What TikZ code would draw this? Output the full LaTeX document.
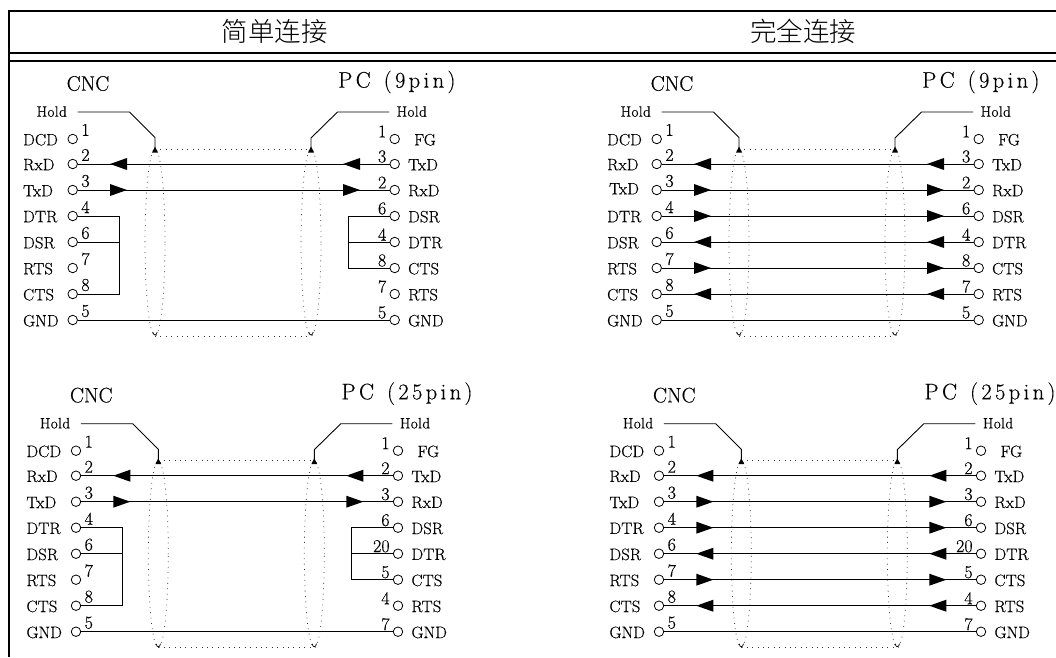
\documentclass[tikz,border=0pt]{standalone}
\usepackage{fontspec}
\setmainfont{Latin Modern Roman}
\newfontfamily\cjk{Noto Sans CJK SC Light}
\usetikzlibrary{calc}
\tikzset{
  rule/.style={line width=2pt,black},
  wire/.style={line width=1pt,black},
  pin/.style={circle,draw,line width=0.8pt,inner sep=0pt,minimum size=9.5pt},
  dots/.style={line width=0.75pt,black!80,dash pattern=on 0.8pt off 4.6pt},
  holdline/.style={line width=0.9pt,black},
  sig/.style={inner sep=0pt,font=\fontsize{16.5}{17}\selectfont\addfontfeature{LetterSpace=1,FakeBold=0.5}},
  num/.style={inner sep=0pt,font=\fontsize{18}{18}\selectfont\addfontfeature{FakeBold=0.4}},
  holdtxt/.style={inner sep=0pt,font=\fontsize{15}{15}\selectfont\addfontfeature{LetterSpace=3,FakeBold=0.8}},
  cnctxt/.style={inner sep=0pt,font=\fontsize{21}{21}\selectfont\addfontfeature{FakeBold=0.3}},
  ttl/.style={inner sep=0pt,font=\fontsize{22.5}{23}\selectfont\addfontfeature{LetterSpace=15,FakeBold=0.3}},
  head/.style={inner sep=0pt,font=\cjk\fontsize{26.5}{27}\selectfont},
}
% row y of a pin index
\newcommand\rowy[1]{\the\numexpr 139+#1*26-26-\ifnum#1=1 0\else 1\fi\relax}
% #1 name, #2 left TxD label offset, #3 PC title, #4 right pin list
\newcommand\panelbase[4]{%
  \node[cnctxt] (#1cnc) at (88,83.5) {CNC};
  \node[ttl,anchor=west] (#1pc) at (338,82) {PC\hspace{13pt}#3};
  \foreach \i/\n/\t in {1/1/DCD,2/2/RxD,4/4/DTR,5/6/DSR,6/7/RTS,7/8/CTS,8/5/GND}{
    \node[sig,anchor=west] (#1lt\i) at (23,\rowy{\i}+0.7) {\t};
  }
  \node[sig,anchor=west] (#1lt3) at ($(23,\rowy{3}+0.7)+#2$) {TxD};
  \foreach \i/\n in {1/1,2/2,3/3,4/4,5/6,6/7,7/8,8/5}{
    \node[pin] (#1l\i) at (72.7,\rowy{\i}) {};
    \node[num] (#1ln\i) at (85.5,\rowy{\i}-9) {\n};
  }
  \foreach \i/\n/\t/\xt in #4{
    \node[pin] (#1r\i) at (394.7,\rowy{\i}) {};
    \node[sig,anchor=west] (#1rt\i) at (\xt,\rowy{\i}+0.7) {\t};
    \node[num,anchor=east] (#1rn\i) at (386.5,\rowy{\i}-7.5) {\n};
  }
  % shield ellipses and hold leads
  \coordinate (#1ea) at (155,149); \coordinate (#1eb) at (311,149);
  \coordinate (#1ec) at (155,336); \coordinate (#1ed) at (311,336);
  \draw[dots] ($(#1ea)!0.5!(#1ec)$) ellipse (10pt and 93.5pt);
  \draw[dots] ($(#1eb)!0.5!(#1ed)$) ellipse (10pt and 93.5pt);
  \draw[dots] (#1ea) -- (#1eb);
  \draw[dots] (#1ec) -- (#1ed);
  \draw[line width=0.7pt] ($(#1ec)+(-2.2,-4)$) .. controls ($(#1ec)+(-1.6,0)$) and ($(#1ec)+(1.6,0)$) .. ($(#1ec)+(2.2,-4)$);
  \draw[line width=0.7pt] ($(#1ed)+(-2.2,-4)$) .. controls ($(#1ed)+(-1.6,0)$) and ($(#1ed)+(1.6,0)$) .. ($(#1ed)+(2.2,-4)$);
  \node[holdtxt,anchor=west] (#1hl) at (36.5,111.5) {Hold};
  \node[holdtxt,anchor=west] (#1hr) at (396.5,111.5) {Hold};
  \coordinate (#1hl0) at (77.5,112); \coordinate (#1hr0) at (389,112);
  \coordinate (#1hla) at (129.5,112); \coordinate (#1hlb) at (155,137.5);
  \coordinate (#1hra) at (337.5,112); \coordinate (#1hrb) at (311,138);
  \draw[holdline] (#1hl0) -- (#1hla) -- (#1hlb) -- (#1ea);
  \draw[holdline] (#1hr0) -- (#1hra) -- (#1hrb) -- (#1eb);
  \fill ($(#1ea)+(0,-2.5)$) -- ($(#1ea)+(-3,3.5)$) -- ($(#1ea)+(3,3.5)$) -- cycle;
  \fill ($(#1eb)+(0,-2.5)$) -- ($(#1eb)+(-3,3.5)$) -- ($(#1eb)+(3,3.5)$) -- cycle;
  \draw[wire] (#1l8.east) -- (#1r8.west);
}
% #1 name, #2 row index, #3 direction: r / l
\newcommand\arrowwire[3]{%
  \draw[wire] (#1l#2.east) -- (#1r#2.west);
  \if#3r
    \fill (110,\rowy{#2}-6) -- (127,\rowy{#2}) -- (110,\rowy{#2}+6) -- cycle;
    \fill (343,\rowy{#2}-6) -- (360,\rowy{#2}) -- (343,\rowy{#2}+6) -- cycle;
  \else
    \fill (127,\rowy{#2}-6) -- (110,\rowy{#2}) -- (127,\rowy{#2}+6) -- cycle;
    \fill (360,\rowy{#2}-6) -- (343,\rowy{#2}) -- (360,\rowy{#2}+6) -- cycle;
  \fi
}
\newcommand\simplewires[1]{%
  \arrowwire{#1}{2}{l}
  \arrowwire{#1}{3}{r}
  \coordinate (#1ba) at (119,\rowy{4}); \coordinate (#1bb) at (119,\rowy{7}); \coordinate (#1bc) at (119,\rowy{5});
  \draw[wire] (#1l4.east) -- (#1ba) -- (#1bb) -- (#1l7.east);
  \draw[wire] (#1l5.east) -- (#1bc);
  \coordinate (#1ca) at (348.5,\rowy{4}); \coordinate (#1cb) at (348.5,\rowy{6}); \coordinate (#1cc) at (348.5,\rowy{5});
  \draw[wire] (#1r4.west) -- (#1ca) -- (#1cb) -- (#1r6.west);
  \draw[wire] (#1r5.west) -- (#1cc);
}
\newcommand\fullwires[1]{%
  \arrowwire{#1}{2}{l}\arrowwire{#1}{3}{r}\arrowwire{#1}{4}{r}
  \arrowwire{#1}{5}{l}\arrowwire{#1}{6}{r}\arrowwire{#1}{7}{l}
}
\newcommand\ninelist{1/1/FG/414,2/3/TxD/408,3/2/RxD/408,4/6/DSR/408,5/4/DTR/408,6/8/CTS/408,7/7/RTS/408,8/5/GND/408}
\newcommand\twfvlist{1/1/FG/414,2/2/TxD/408,3/3/RxD/408,4/6/DSR/408,5/20/DTR/408,6/5/CTS/408,7/4/RTS/408,8/7/GND/408}
\begin{document}
\begin{tikzpicture}[x=1pt,y=-1pt]
\useasboundingbox (0,0) rectangle (1056,657);
\coordinate (tl) at (9,10.8); \coordinate (tr) at (1056,10.8);
\coordinate (bl) at (9,657);
\coordinate (h1l) at (9,53.3); \coordinate (h1r) at (1056,53.3);
\coordinate (h2l) at (9,61); \coordinate (h2r) at (1056,61);
\draw[rule] (bl) -- (tl) -- (tr);
\draw[rule] (h1l) -- (h1r);
\draw[rule] (h2l) -- (h2r);
\node[head] (hleft) at (274.5,31) {简单连接};
\node[head] (hright) at (803,31) {完全连接};
\begin{scope}
  \panelbase{A}{(0,0)}{(9pin)}{\ninelist}
  \simplewires{A}
\end{scope}
\begin{scope}[shift={(584,0)}]
  \panelbase{B}{(2,-2)}{(9pin)}{\ninelist}
  \fullwires{B}
\end{scope}
\begin{scope}[shift={(3.3,311.7)}]
  \panelbase{C}{(0,0)}{(25pin)}{\twfvlist}
  \simplewires{C}
\end{scope}
\begin{scope}[shift={(586.3,311.7)}]
  \panelbase{D}{(0,0)}{(25pin)}{\twfvlist}
  \fullwires{D}
\end{scope}
\end{tikzpicture}
\end{document}
